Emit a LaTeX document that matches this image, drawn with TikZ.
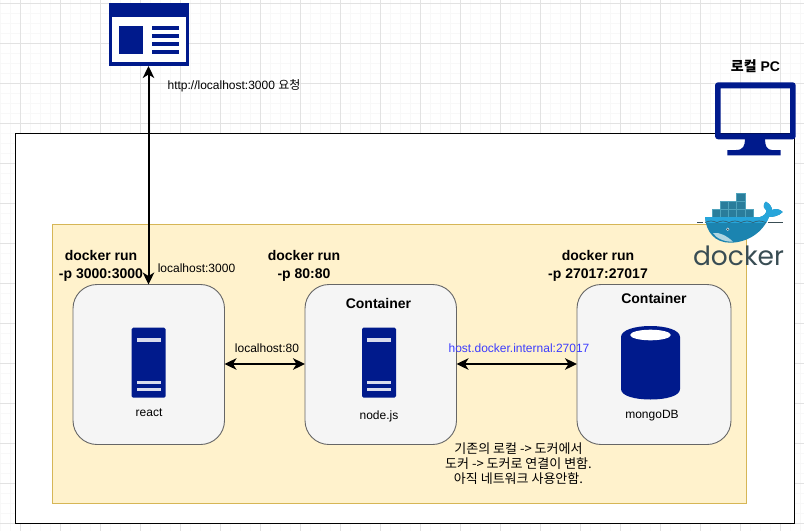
\documentclass[tikz,border=0pt]{standalone}
\usepackage{fontspec}
\setmainfont{Liberation Sans}
\newfontfamily\kr{Noto Sans CJK KR}
\newfontfamily\pop{Poppins}
\usetikzlibrary{arrows.meta}
\definecolor{navy}{HTML}{001A8C}
\definecolor{gridc}{HTML}{F8F8F8}
\definecolor{gridd}{HTML}{E2E2E2}
\definecolor{ylw}{HTML}{FFF2CC}
\definecolor{ylwb}{HTML}{D6B656}
\definecolor{boxf}{HTML}{F5F5F5}
\definecolor{boxb}{HTML}{666666}
\definecolor{dk}{HTML}{394D54}
\definecolor{wh}{HTML}{1B84B0}
\definecolor{whl}{HTML}{27A5DA}
\definecolor{cb}{HTML}{2A7D9B}
\definecolor{cbl}{HTML}{4FA3BC}
\tikzset{
 x=1pt,y=-1pt,
 lbl/.style={font=\fontsize{12}{14.5}\selectfont,align=center,inner sep=0pt,text=black},
 blbl/.style={font=\fontsize{14}{18}\selectfont\bfseries,align=center,inner sep=0pt,text=black},
 krl/.style={font=\fontsize{13}{15}\selectfont\kr,align=center,inner sep=0pt},
 cbox/.style={draw=boxb,fill=boxf,line width=.9pt,rounded corners=24pt,inner sep=0pt,outer sep=0pt,anchor=north west},
 conn/.style={line width=2pt,{Stealth[length=12pt,width=11.5pt,inset=3.5pt]}-{Stealth[length=12pt,width=11.5pt,inset=3.5pt]}},
 ico/.style={fill=navy,draw=none},
}
\newcommand{\srv}[2]{%
 \fill[navy,rounded corners=1.5pt] (#1-17,#2-35) rectangle (#1+17,#2+35);
 \fill[white,opacity=.85] (#1-12,#2-25) rectangle (#1+12,#2-21);
 \fill[white,opacity=.85] (#1-12,#2+18) rectangle (#1+12,#2+21.7);
 \fill[white,opacity=.85] (#1-12,#2+25) rectangle (#1+12,#2+28.5);
}
\begin{document}
\begin{tikzpicture}
\useasboundingbox (0,0) rectangle (804,531);
\fill[white] (0,0) rectangle (804,531);
\foreach \i in {0,...,80}{
 \draw[gridc,line width=1pt] (\i*10+0.5,0) -- (\i*10+0.5,531);
}
\foreach \i in {0,...,53}{
 \draw[gridc,line width=1pt] (0,\i*10+3.5) -- (804,\i*10+3.5);
}
\foreach \i in {0,...,19}{
 \draw[gridd,line width=1pt] (\i*40+20.5,0) -- (\i*40+20.5,531);
}
\foreach \i in {0,...,13}{
 \draw[gridd,line width=1pt] (0,\i*40+3.5) -- (804,\i*40+3.5);
}
\node[draw=black,fill=white,line width=1pt,minimum width=779.5pt,minimum height=390pt,inner sep=0pt,outer sep=0pt,anchor=north west] (outer) at (15,133) {};
\node[draw=ylwb,fill=ylw,line width=.8pt,minimum width=694pt,minimum height=279pt,inner sep=0pt,outer sep=0pt,anchor=north west] (net) at (52,224) {};
% browser icon
\node[ico,minimum width=80.5pt,minimum height=62.7pt,inner sep=0pt,outer sep=0pt,anchor=north west] (web) at (108.5,3.3) {};
\fill[white] (111.7,17.3) rectangle (186,62.3);
\fill[navy] (119.3,25.7) rectangle (143.3,54);
\foreach \yy in {25.7,33.9,42,50}{\fill[navy] (152.3,\yy) rectangle (178.7,\yy+4);}
% monitor
\fill[navy,rounded corners=3pt,even odd rule] (715,82.3) rectangle (795.7,139.3) [sharp corners] (720.7,88.3) rectangle (790,133.3);
\fill[navy] (745,139) .. controls (745,146) and (743,150) .. (736,150) -- (727.3,150) -- (727.3,155.3) -- (780.7,155.3) -- (780.7,150) -- (772,150) .. controls (767,150) and (765,146) .. (765,139) -- cycle;
\node[blbl] (pclbl) at (755.5,66) {{\kr 로컬} PC};
% containers
\node[cbox,minimum width=151.5pt,minimum height=160pt] (react) at (73,284.5) {};
\node[cbox,minimum width=151.5pt,minimum height=160pt] (node) at (305,284.5) {};
\node[cbox,minimum width=154pt,minimum height=160pt] (mongo) at (577,284.5) {};
\srv{148.7}{362.7}
\srv{379}{362.7}
\fill[navy] (621,337) -- (621,389) .. controls (621,396) and (635,399.5) .. (650.5,399.5) .. controls (666,399.5) and (680,396) .. (680,389) -- (680,337) .. controls (680,330) and (666,326) .. (650.5,326) .. controls (635,326) and (621,330) .. (621,337) -- cycle;
\fill[white] (650.5,335) ellipse [x radius=20.3pt,y radius=5.3pt];
\node[lbl] (t1) at (149,412.5) {react};
\node[lbl] (t2) at (379,416.5) {node.js};
\node[lbl] (t3) at (652,416) {mongoDB};
\node[blbl] (c2) at (378.5,303.5) {Container};
\node[blbl] (c3) at (654,298.5) {Container};
\node[blbl] (d1) at (101,265.7) {docker run\\-p 3000:3000};
\node[blbl] (d2) at (304,265.7) {docker run\\-p 80:80};
\node[blbl] (d3) at (598,265.7) {docker run\\-p 27017:27017};
% connectors
\draw[conn] (web.south -| 148.5,0) -- (react.north -| 148.5,0);
\draw[conn] (react.east |- 0,364) -- (node.west |- 0,364);
\draw[conn] (node.east |- 0,364) -- (mongo.west |- 0,364);
\node[lbl] (l0) at (234,86) {http://localhost:3000 {\kr 요청}};
\node[lbl] (l1) at (196.5,268) {localhost:3000};
\node[lbl] (l2) at (267,348) {localhost:80};
\node[lbl,text={rgb,255:red,60;green,60;blue,255}] (l3) at (519,348) {host.docker.internal:27017};
\node[krl] (l4) at (518.5,463.5) {기존의 로컬 -> 도커에서\\도커 -> 도커로 연결이 변함.\\아직 네트워크 사용안함.};
% docker whale
\foreach \cx/\cy in {712/209,720.2/209,728.4/209,736.6/209,744.8/209,720.2/201,728.4/201,736.6/201,736.6/193}{
 \fill[cb,draw=cbl,line width=.4pt] (\cx,\cy) rectangle (\cx+8.2,\cy+8);
}
\path[fill=wh] (705,217) -- (760,217) .. controls (764,216) and (767,213) .. (766,210) .. controls (762,207) and (764,203) .. (766,201.7) .. controls (770,204) and (772,207) .. (772,210) .. controls (775,208) and (780,209) .. (782.7,212) .. controls (779,216) and (773,217) .. (769,217) .. controls (763,232) and (748,242.7) .. (730,242.7) .. controls (715,242.7) and (706,232) .. (705,217) -- cycle;
\begin{scope}
\clip (690,195) rectangle (795,222);
\path[fill=whl] (705,217) -- (760,217) .. controls (764,216) and (767,213) .. (766,210) .. controls (762,207) and (764,203) .. (766,201.7) .. controls (770,204) and (772,207) .. (772,210) .. controls (775,208) and (780,209) .. (782.7,212) .. controls (779,216) and (773,217) .. (769,217) .. controls (763,232) and (748,242.7) .. (730,242.7) .. controls (715,242.7) and (706,232) .. (705,217) -- cycle;
\end{scope}
\fill[cbl!45!white] (713,233) .. controls (720,232) and (727,236) .. (733,241.7) .. controls (724,242) and (716,238) .. (713,233) -- cycle;
\fill[white] (727.7,229.3) circle (1.6pt);
\fill[dk] (727.7,229.3) circle (1pt);
\draw[dk,line width=.7pt] (697,222.5) -- (703,222.5);
\draw[dk,line width=.7pt] (768,222.5) -- (783,222.5);
\draw[dk!70!wh,line width=.7pt] (705,222.5) .. controls (710,220.5) and (712,220.5) .. (717,222.5) .. controls (722,220.5) and (724,220.5) .. (729,222.5) .. controls (734,220.5) and (736,220.5) .. (741,222.5) .. controls (746,220.5) and (748,220.5) .. (753,222.5) .. controls (758,220.5) and (760,220.5) .. (766,222.5);
\node[inner sep=0pt,font=\fontsize{26.5}{27}\selectfont\pop,text=dk] (dlogo) at (738.5,255.5) {docker};
\end{tikzpicture}
\end{document}
